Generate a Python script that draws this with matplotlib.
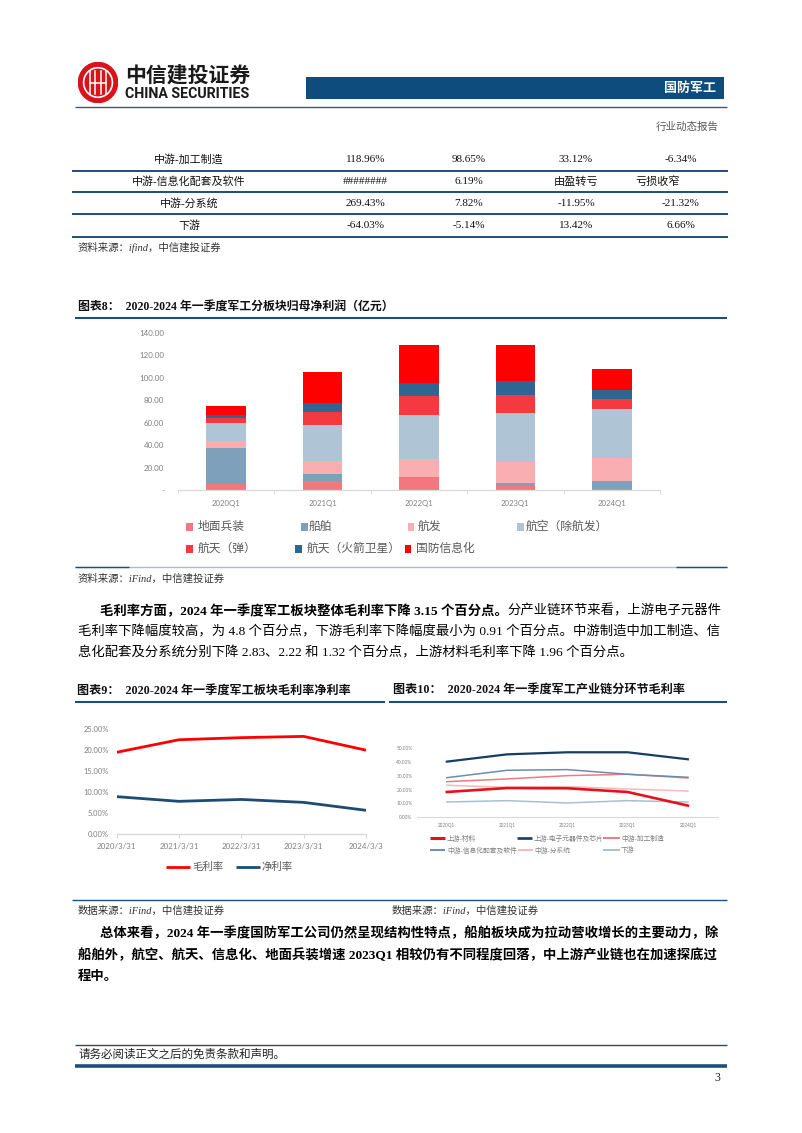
import matplotlib
matplotlib.use('Agg')
import matplotlib.pyplot as plt
import numpy as np
from matplotlib.patches import Rectangle, Circle
from matplotlib.lines import Line2D

# ---------------- data ----------------
table_rows = ['中游-加工制造', '中游-信息化配套及软件', '中游-分系统', '下游']
table_c1 = ['118.96%', '########', '269.43%', '-64.03%']
table_c2 = ['98.65%', '6.19%', '7.82%', '-5.14%']
table_c3 = ['33.12%', '由盈转亏', '-11.95%', '13.42%']
table_c4 = ['-6.34%', '亏损收窄', '-21.32%', '6.66%']

quarters = ['2020Q1', '2021Q1', '2022Q1', '2023Q1', '2024Q1']
seg_names = ['地面兵装', '船舶', '航发', '航空（除航发）', '航天（弹）', '航天（火箭卫星）', '国防信息化']
ground = [5.1, 8.4, 10.5, 3.6, 0.9]
ship = [32.1, 6.0, 1.5, 3.0, 7.5]
aero_engine = [6.9, 11.7, 15.9, 18.0, 20.1]
aviation = [15.6, 31.8, 39.2, 44.0, 44.0]
missile = [4.5, 11.3, 16.5, 16.5, 9.0]
rocket = [2.6, 8.4, 11.7, 12.3, 7.5]
info = [8.4, 27.9, 33.6, 32.1, 18.9]
seg_colors = ['#F4777F', '#7EA0BB', '#F9AEB1', '#AFC5D5', '#F43A40', '#2E6593', '#FF0000']
y8_ticks = [0, 20, 40, 60, 80, 100, 120, 140]
y8_labels = ['-', '20.00', '40.00', '60.00', '80.00', '100.00', '120.00', '140.00']

dates9 = ['2020/3/31', '2021/3/31', '2022/3/31', '2023/3/31', '2024/3/3']
gross_margin = [0.195, 0.225, 0.230, 0.233, 0.200]
net_margin = [0.0887, 0.0775, 0.082, 0.075, 0.056]

quarters10 = ['2020Q1', '2021Q1', '2022Q1', '2023Q1', '2024Q1']
chain_names = ['上游-材料', '上游-电子元器件及芯片', '中游-加工制造', '中游-信息化配套及软件', '中游-分系统', '下游']
up_material = [0.182, 0.211, 0.209, 0.182, 0.083]
up_electronic = [0.403, 0.456, 0.471, 0.471, 0.420]
mid_process = [0.257, 0.277, 0.301, 0.311, 0.284]
mid_info = [0.286, 0.340, 0.345, 0.311, 0.289]
mid_subsys = [0.231, 0.216, 0.221, 0.204, 0.189]
downstream = [0.109, 0.119, 0.102, 0.119, 0.109]
chain_colors = ['#E8101A', '#173D64', '#F07A80', '#6A8DB0', '#F8B9BC', '#A9BFD0']
chain_lw = [1.9, 1.6, 1.1, 1.1, 1.1, 1.1]

# ---------------- page ----------------
W, H = 802, 1133
fig = plt.figure(figsize=(8.02, 11.33), dpi=100)
fig.patch.set_facecolor('white')

SERIF = ['Liberation Serif', 'Noto Sans CJK SC']
SANS = ['Noto Sans CJK SC', 'DejaVu Sans']
NUM = ['Lato', 'DejaVu Sans']
BLUE = '#1F4E79'


def fx(x):
    return x / W


def fy(y):
    return 1 - y / H


def T(x, y, s, size, ha='left', va='center', color='#111111', weight='normal', family=SERIF, style='normal'):
    return fig.text(fx(x), fy(y), s, fontsize=size, ha=ha, va=va, color=color,
                    fontweight=weight, family=family, fontstyle=style)


def HL(x0, x1, y, color=BLUE, lw=1.0):
    fig.add_artist(Line2D([fx(x0), fx(x1)], [fy(y), fy(y)], color=color, linewidth=lw,
                          transform=fig.transFigure, solid_capstyle='butt'))


# header logo
axl = fig.add_axes([fx(78), fy(103), 40 / W, 41 / H])
axl.set_xlim(0, 1)
axl.set_ylim(0, 1)
axl.axis('off')
axl.add_patch(Circle((0.5, 0.5), 0.49, color='#D7141A'))
axl.add_patch(Circle((0.5, 0.5), 0.36, fill=False, ec='white', lw=1.2))
for xv in [0.3, 0.42, 0.58, 0.7]:
    axl.plot([xv, xv], [0.22, 0.78], color='white', lw=1.1)
axl.plot([0.3, 0.7], [0.5, 0.5], color='white', lw=1.1)
T(125, 75, '中信建投证券', 15, weight='bold', family=SANS, color='#1a1a1a')
T(125, 94, 'CHINA SECURITIES', 10.2, weight='bold', family=['Roboto', 'DejaVu Sans'], color='#1a1a1a')
fig.add_artist(Rectangle((fx(306), fy(99.3)), (724 - 306) / W, 22.6 / H, transform=fig.transFigure,
                         color='#0E4C7D', lw=0))
T(716, 88, '国防军工', 9.4, ha='right', color='white', weight='bold', family=SANS)
HL(75, 727, 107.3, '#2E5F8A', 1.0)
T(719, 127, '行业动态报告', 7.6, ha='right', color='#595959')

# table
row_y = [159.3, 181.7, 203.3, 226]
line_y = [170.7, 192.3, 214, 236.7]
for i in range(4):
    T(189, row_y[i], table_rows[i], 7.9, ha='center')
    T(365.5, row_y[i], table_c1[i], 8.0, ha='center')
    T(469, row_y[i], table_c2[i], 8.0, ha='center')
    T(576, row_y[i], table_c3[i], 8.0, ha='center')
    T(658 if table_c4[i] == '亏损收窄' else 681, row_y[i], table_c4[i], 8.0, ha='center')
    HL(72, 728, line_y[i], BLUE, 1.4)
T(78, 247.3, '资料来源：ifind，中信建投证券', 7.5, style='italic', color='#333333')

# chart 8 title
T(78, 307, '图表8：  2020-2024 年一季度军工分板块归母净利润（亿元）', 8.6, weight='bold')
HL(75, 727, 318.3, BLUE, 1.5)

ax8 = fig.add_axes([fx(178), fy(490), (660 - 178) / W, (490 - 333) / H])
series = [ground, ship, aero_engine, aviation, missile, rocket, info]
x = np.arange(len(quarters))
bottom = np.zeros(len(quarters))
for vals, col, name in zip(series, seg_colors, seg_names):
    ax8.bar(x, vals, 0.41, bottom=bottom, color=col, label=name, lw=0)
    bottom += np.array(vals)
ax8.set_xlim(-0.5, 4.5)
ax8.set_ylim(0, 140)
ax8.set_yticks(y8_ticks)
ax8.set_yticklabels(y8_labels, family=NUM, fontsize=5.7, color='#7F7F7F')
ax8.set_xticks(x)
ax8.set_xticklabels(quarters, family=NUM, fontsize=5.6, color='#7F7F7F')
ax8.set_xticks(np.arange(-0.5, 5, 1), minor=True)
ax8.tick_params(axis='y', length=0, pad=10)
ax8.tick_params(axis='x', which='major', length=0, pad=7)
ax8.tick_params(axis='x', which='minor', length=3, color='#D9D9D9', direction='out')
for s in ['top', 'right', 'left']:
    ax8.spines[s].set_visible(False)
ax8.spines['bottom'].set_color('#D9D9D9')
ax8.spines['bottom'].set_linewidth(0.9)

# chart 8 legend
leg8 = [(189, 527, 198), (304, 527, 309), (411, 527, 418), (520, 527, 526),
        (189, 549, 198), (298.5, 549, 307), (408, 549, 415.6)]
for (sx, sy, tx), col, name in zip(leg8, seg_colors, seg_names):
    fig.add_artist(Rectangle((fx(sx - 3.5), fy(sy + 4)), 7 / W, 8 / H, transform=fig.transFigure,
                             color=col, lw=0))
    T(tx, sy, name, 8.5, color='#595959')
HL(75, 727, 566.7, '#A9BDD0', 1.0)
HL(75, 129, 566.7, BLUE, 1.0)
HL(676, 727, 566.7, BLUE, 1.0)
T(78, 578.7, '资料来源：iFind，中信建投证券', 7.5, style='italic', color='#333333')

# paragraph 1
renderer = fig.canvas.get_renderer()
PS = 9.6
t1 = T(100, 611, '毛利率方面，2024 年一季度军工板块整体毛利率下降 3.15 个百分点。', PS, weight='bold', color='black')
bb = t1.get_window_extent(renderer)
T(bb.x1, 611, '分产业链环节来看，上游电子元器件', PS, color='black')
T(78, 632, '毛利率下降幅度较高，为 4.8 个百分点，下游毛利率下降幅度最小为 0.91 个百分点。中游制造中加工制造、信', PS, color='black')
T(78, 653, '息化配套及分系统分别下降 2.83、2.22 和 1.32 个百分点，上游材料毛利率下降 1.96 个百分点。', PS, color='black')

# chart 9/10 titles
T(77, 690.7, '图表9：  2020-2024 年一季度军工板块毛利率净利率', 8.7, weight='bold')
T(392.7, 690.7, '图表10：  2020-2024 年一季度军工产业链分环节毛利率', 8.7, weight='bold')
HL(75, 385, 701.7, BLUE, 1.5)
HL(389, 727, 701.7, BLUE, 1.5)

# chart 9
ax9 = fig.add_axes([fx(116.7), fy(833.7), (366 - 116.7) / W, (833.7 - 729.3) / H])
x9 = np.arange(len(dates9))
ax9.plot(x9, gross_margin, color='#FF0000', lw=2.0, solid_capstyle='butt')
ax9.plot(x9, net_margin, color='#1E4B73', lw=2.0, solid_capstyle='butt')
ax9.set_xlim(0, 4)
ax9.set_ylim(0, 0.25)
ax9.set_yticks(np.arange(0, 0.26, 0.05))
ax9.set_yticklabels(['%.2f%%' % (v * 100) for v in np.arange(0, 0.26, 0.05)], family=NUM, fontsize=5.4, color='#7F7F7F')
ax9.set_xticks(x9)
ax9.set_xticklabels(dates9, family=NUM, fontsize=5.7, color='#7F7F7F')
ax9.tick_params(axis='y', length=0, pad=5.5)
ax9.tick_params(axis='x', length=3, color='#D9D9D9', pad=4)
for s in ['top', 'right', 'left']:
    ax9.spines[s].set_visible(False)
ax9.spines['bottom'].set_color('#D9D9D9')
ax9.spines['bottom'].set_linewidth(1.0)

# chart 9 legend
HL(166, 190, 866.7, '#FF0000', 2.0)
T(192, 866.7, '毛利率', 7.5, color='#595959')
HL(235.6, 259.5, 866.7, '#1E4B73', 2.0)
T(261, 866.7, '净利率', 7.5, color='#595959')

# chart 10
ax10 = fig.add_axes([fx(416.7), fy(817), (718 - 416.7) / W, (817 - 748.3) / H])
x10 = np.arange(len(quarters10))
chain = [up_material, up_electronic, mid_process, mid_info, mid_subsys, downstream]
draw_order = [5, 4, 2, 3, 1, 0]
for i in draw_order:
    ax10.plot(x10, chain[i], color=chain_colors[i], lw=chain_lw[i], label=chain_names[i])
ax10.set_xlim(-0.5, 4.5)
ax10.set_ylim(0, 0.5)
ax10.set_yticks(np.arange(0, 0.51, 0.1))
ax10.set_yticklabels(['%.2f%%' % (v * 100) for v in np.arange(0, 0.51, 0.1)], family=NUM, fontsize=3.5, color='#7F7F7F')
ax10.set_xticks(x10)
ax10.set_xticklabels(quarters10, family=NUM, fontsize=3.3, color='#7F7F7F')
ax10.tick_params(axis='y', length=0, pad=3)
ax10.tick_params(axis='x', length=0, pad=4)
for s in ['top', 'right', 'left']:
    ax10.spines[s].set_visible(False)
ax10.spines['bottom'].set_color('#D9D9D9')
ax10.spines['bottom'].set_linewidth(0.8)

# chart 10 legend
leg10 = [(430, 445, 838.3, 447), (517, 532, 838.3, 534), (603, 620, 838.3, 621),
         (430, 445, 850, 447), (518, 533, 850, 534), (603, 620, 850, 621)]
for (l0, l1, ly, tx), col, lw, name in zip(leg10, chain_colors, chain_lw, chain_names):
    HL(l0, l1, ly, col, lw + 0.3)
    T(tx, ly, name, 4.9, color='#7F7F7F')

# sources
HL(72, 727, 900, BLUE, 1.0)
T(78, 911, '数据来源：iFind，中信建投证券', 7.5, style='italic', color='#333333')
T(392, 911, '数据来源：iFind，中信建投证券', 7.5, style='italic', color='#333333')

# paragraph 2
T(100, 933, '总体来看，2024 年一季度国防军工公司仍然呈现结构性特点，船舶板块成为拉动营收增长的主要动力，除', PS, weight='bold', color='black')
T(78, 955, '船舶外，航空、航天、信息化、地面兵装增速 2023Q1 相较仍有不同程度回落，中上游产业链也在加速探底过', PS, weight='bold', color='black')
T(78, 977, '程中。', PS, weight='bold', color='black')

# footer
HL(75, 727, 1045, BLUE, 1.0)
T(78, 1055, '请务必阅读正文之后的免责条款和声明。', 8.3, color='#222222')
HL(75, 727, 1066, BLUE, 2.6)
T(720, 1078, '3', 8.5, ha='right', color='#222222')

fig.savefig('out.png', dpi=100, facecolor='white')
